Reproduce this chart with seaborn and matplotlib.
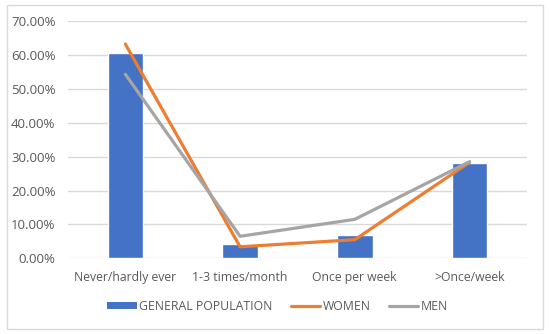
import matplotlib
matplotlib.use("Agg")
import matplotlib.pyplot as plt
import seaborn as sns
import pandas as pd
from matplotlib.patches import Patch, Rectangle
from matplotlib.lines import Line2D
from matplotlib.ticker import FuncFormatter

categories = ["Never/hardly ever", "1-3 times/month", "Once per week", ">Once/week"]
general = [0.606, 0.041, 0.069, 0.281]
women = [0.632, 0.034, 0.055, 0.283]
men = [0.543, 0.065, 0.115, 0.285]
ticks = [0.0, 0.1, 0.2, 0.3, 0.4, 0.5, 0.6, 0.7]

blue = "#4472C4"
orange = "#ED7D31"
gray = "#A5A5A5"
text_c = "#595959"
grid_c = "#D9D9D9"

sns.set_theme(style="white")
plt.rcParams["font.family"] = ["Open Sans", "DejaVu Sans"]

fig = plt.figure(figsize=(5.5, 3.34), dpi=100)
ax = fig.add_axes([0.1236, 0.2266, 0.958 - 0.1236, 0.937 - 0.2266])

df = pd.DataFrame({"cat": categories, "general": general, "women": women, "men": men})

sns.barplot(data=df, x="cat", y="general", color=blue, saturation=1, width=0.31, ax=ax, zorder=2)
sns.lineplot(data=df, x="cat", y="women", color=orange, linewidth=2.3, sort=False, ax=ax, zorder=3)
sns.lineplot(data=df, x="cat", y="men", color=gray, linewidth=2.3, sort=False, ax=ax, zorder=4)

ax.set_xlim(-0.5, 3.5)
ax.set_ylim(0, 0.7)
ax.set_yticks(ticks)
ax.yaxis.set_major_formatter(FuncFormatter(lambda v, p: f"{v*100:.2f}%"))
ax.grid(axis="y", color=grid_c, linewidth=1, zorder=0)
ax.set_axisbelow(True)
for s in ax.spines.values():
    s.set_visible(False)
ax.tick_params(axis="both", length=0, labelcolor=text_c)
ax.tick_params(axis="y", pad=9, labelsize=9.5)
ax.tick_params(axis="x", pad=9, labelsize=8.8)
ax.set_xlabel("")
ax.set_ylabel("")

handles = [
    Patch(facecolor=blue, edgecolor="none"),
    Line2D([], [], color=orange, linewidth=2.3),
    Line2D([], [], color=gray, linewidth=2.3),
]
labels = ["GENERAL POPULATION", "WOMEN", "MEN"]
fig.legend(handles, labels, loc="center", bbox_to_anchor=(0.505, 0.083), ncol=3,
           frameon=False, fontsize=8.8, labelcolor=text_c, handlelength=2.4,
           handleheight=0.6, handletextpad=0.2, columnspacing=1.5)

fig.patches.append(Rectangle((0.0127, 0.015), 0.987 - 0.0127, 0.985 - 0.015,
                             transform=fig.transFigure, fill=False,
                             edgecolor=grid_c, linewidth=1))

fig.savefig("out.png", dpi=100)
